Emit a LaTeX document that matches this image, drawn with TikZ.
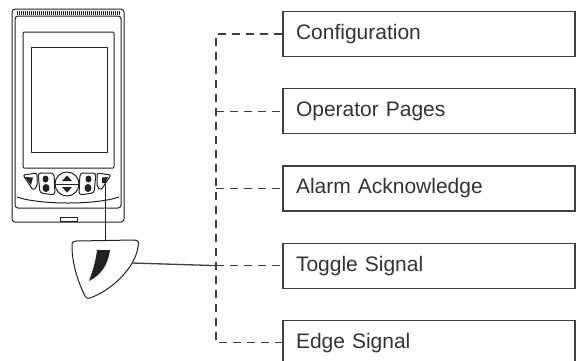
\documentclass[tikz,border=0pt]{standalone}
\usepackage{fontspec}
\setmainfont{Liberation Sans}
\usetikzlibrary{positioning}
\definecolor{linegray}{HTML}{404040}
\definecolor{devgray}{HTML}{222222}

\begin{document}
\begin{tikzpicture}[x=1pt,y=-1pt,
box/.style={
	draw=linegray,
	line width=1.2pt,
	minimum height=45pt,
	text width=266pt,
	inner xsep=13pt,
	align=left,
	font=\fontsize{21}{24}\selectfont,
	text=black!80
},
bus/.style={
	draw=linegray,
	line width=1.3pt,
	dash pattern=on 8pt off 6pt
},
wire/.style={draw=linegray,line width=1.3pt},
dev/.style={draw=devgray,line width=1pt,line join=round},
node distance=31pt
]
\useasboundingbox (0,0) rectangle (577,360);

% menu boxes
\node[box] at (429,34) (cfg) {Configuration};
\node[box,below=of cfg] (oppages) {Operator Pages};
\node[box,below=of oppages] (alarm) {Alarm Acknowledge};
\node[box,below=of alarm] (toggle) {Toggle Signal};
\node[box,below=of toggle] (edge) {Edge Signal};

% device
\draw[dev,rounded corners=3pt] (12,9) rectangle (124,222);
\draw[dev,rounded corners=3pt] (15,16) rectangle (121,208);
\foreach \x in {17,19,...,119}
	\draw[devgray,line width=.5pt] (\x,10.5) -- (\x,15);
\draw[dev,rounded corners=1pt] (23,32) rectangle (114,168);
\draw[dev] (31,47) rectangle (107,152);
\draw[dev] (17,197) .. controls (40,205) and (96,205) .. (119,197);
\draw[dev] (60,217.5) rectangle (77,221);

% keys
\draw[dev,rounded corners=2pt] (23,175) -- (37,173) -- (37,187) -- (33,190) -- cycle;
\fill[devgray] (25,177) -- (33,177.5) -- (31,185) -- cycle;
\draw[dev,rounded corners=3pt] (38,173) -- (54,173) -- (55,195) -- (40,193) -- cycle;
\fill[devgray] (45.5,179) ellipse (3pt and 3.5pt);
\fill[devgray] (46,188) ellipse (3.5pt and 4pt);
\draw[dev] (67,184) circle (12pt);
\draw[dev] (55,184) -- (79,184);
\fill[devgray] (62,181) -- (72,181) -- (67,175.5) -- cycle;
\fill[devgray] (62,187) -- (72,187) -- (67,192.5) -- cycle;
\draw[dev,rounded corners=3pt] (96,173) -- (80,173) -- (79,195) -- (94,193) -- cycle;
\fill[devgray] (88.5,179) ellipse (3pt and 3.5pt);
\fill[devgray] (88,188) ellipse (3.5pt and 4pt);
\draw[dev,rounded corners=2pt] (111,175) -- (97,173) -- (97,187) -- (101,190) -- cycle;
\fill[devgray] (102,177.5) -- (108,177) -- (105,183) -- (102,183) -- cycle;

% edge key
\draw[dev] (76,241) -- (134,240) .. controls (139,240) and (139,243) .. (138,247)
	.. controls (135,268) and (112,290) .. (90,298)
	.. controls (88,299) and (86,298) .. (85,296)
	.. controls (77,280) and (72,262) .. (72,246)
	.. controls (72,242) and (73,241) .. (76,241) -- cycle;
\fill[devgray] (97,250) -- (110,250) .. controls (108,265) and (101,275) .. (89,281)
	.. controls (93,270) and (96,260) .. (97,250) -- cycle;
\draw[dev] (105,182) -- (105,240);

% connectors
\coordinate (busx) at (216,0);
\coordinate (pickR) at (132,263);
\draw[bus] (cfg.west) -- (cfg.west -| busx) -- (edge.west -| busx) -- (edge.west);
\draw[bus] (oppages.west -| busx) -- (oppages.west);
\draw[bus] (alarm.west -| busx) -- (alarm.west);
\draw[bus] (toggle.west -| busx) -- (toggle.west);
\draw[wire] (pickR) -- (toggle.west -| busx);

\end{tikzpicture}
\end{document}
